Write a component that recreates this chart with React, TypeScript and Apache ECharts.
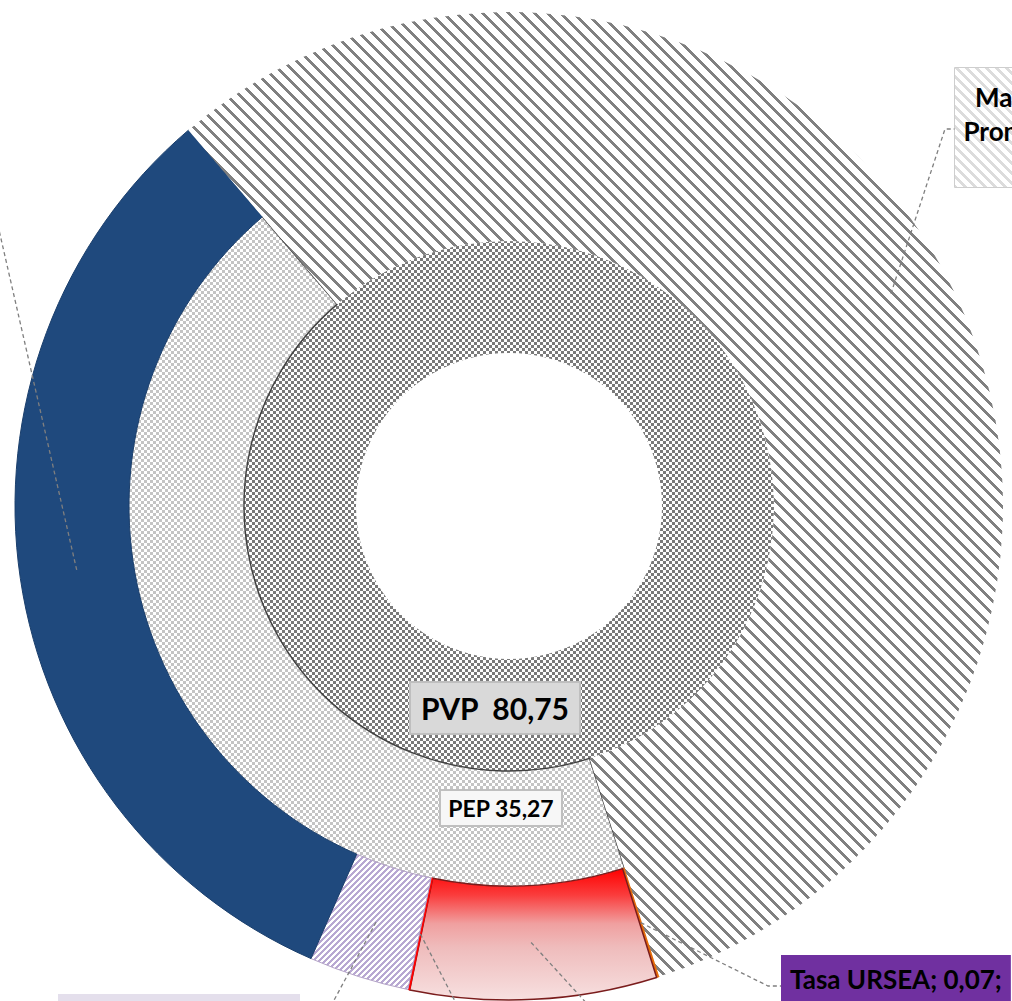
import React, { useEffect, useRef } from 'react';
import * as echarts from 'echarts';

// ---------------- data ----------------
const innerNames = ['PVP'];
const innerValues = [80.75];

const middleNames = ['PEP', 'Margen Promedio'];
const middleValues = [35.27, 45.48];

const outerNames = ['Tasa URSEA', 'Costo logístico', 'Pérdidas', 'Flete y seguro', 'Precio FOB', 'Margen Promedio'];
const outerValues = [0.07, 6.5, 0.05, 2.65, 26.0, 45.48];

const fmt = (v: number) => v.toFixed(2).replace('.', ',');
const FONT = 'Lato, "Open Sans", sans-serif';

function makeTile(w: number, h: number, bg: string, fg: string, on: (x: number, y: number) => boolean) {
  const c = document.createElement('canvas');
  c.width = w;
  c.height = h;
  const ctx = c.getContext('2d')!;
  ctx.fillStyle = bg;
  ctx.fillRect(0, 0, w, h);
  ctx.fillStyle = fg;
  for (let y = 0; y < h; y++) for (let x = 0; x < w; x++) if (on(x, y)) ctx.fillRect(x, y, 1, 1);
  return c;
}
const pattern = (c: HTMLCanvasElement) => ({ image: c.toDataURL(), repeat: 'repeat', imageWidth: c.width, imageHeight: c.height });

export default function App() {
  const ref = useRef<HTMLDivElement>(null);
  useEffect(() => {
    if (!ref.current) return;
    const chart = echarts.init(ref.current, null, { renderer: 'svg' });

    const P = 13;
    const hatch = pattern(makeTile(P, P, '#ffffff', '#808080', (x, y) => (((x - y) % P) + P) % P < 4));
    const lav = pattern(makeTile(6, 6, '#ffffff', '#b8a8d2', (x, y) => (x + y) % 6 < 3));
    const chkDark = pattern(makeTile(6, 6, '#ffffff', '#7a7a7a', (x, y) => (Math.floor(x / 3) + Math.floor(y / 3)) % 2 === 0));
    const chkLight = pattern(makeTile(6, 6, '#ffffff', '#c4c4c4', (x, y) => (Math.floor(x / 3) + Math.floor(y / 3)) % 2 === 0));
    const boxBg = makeTile(129, 119, '#ffffff', '#dcdcdc', (x, y) => (((x - y) % 10) + 10) % 10 < 4).toDataURL();

    const redGrad = {
      type: 'linear', x: 0, y: 0, x2: 0, y2: 1, global: false,
      colorStops: [
        { offset: 0, color: '#ff0000' },
        { offset: 0.2, color: '#fa3c3c' },
        { offset: 0.42, color: '#f0a0a0' },
        { offset: 0.6, color: '#efbcbc' },
        { offset: 1, color: '#f7e0e0' },
      ],
    };

    const outerStyles: any[] = [
      { color: '#e46c0a', borderColor: '#e46c0a', borderWidth: 1 },
      { color: redGrad, borderColor: '#7a1c1c', borderWidth: 1.5 },
      { color: '#ff0000', borderColor: '#ff0000', borderWidth: 1 },
      { color: lav, borderColor: '#b3a2c7', borderWidth: 1 },
      { color: '#1f497d', borderColor: '#1b3f6c', borderWidth: 1 },
      { color: hatch, borderWidth: 0 },
    ];

    // labels of slices whose text lies outside the visible frame carry no text
    const outerLabelStyles: any[] = [
      { backgroundColor: '#7030a0', padding: [11, 9, 20, 9], fontSize: 26, align: 'left' },
      { backgroundColor: '#f2dcdb', padding: [10, 10], fontSize: 18 },
      { backgroundColor: '#ffffff', padding: [10, 10], fontSize: 18 },
      { backgroundColor: '#e4dfec', padding: [12, 10, 24, 10], fontSize: 18, width: 222, align: 'right' },
      { backgroundColor: '#dbe5f1', padding: [10, 10], fontSize: 18 },
      {
        backgroundColor: { image: boxBg }, borderColor: '#bfbfbf', borderWidth: 1.5,
        padding: [12, 8, 39, 8], fontSize: 26, lineHeight: 34, width: 113, align: 'center',
      },
    ];

    const outerLabelPos: any[] = [
      { x: 781, y: 955, align: 'left', verticalAlign: 'top', elbow: [768, 986], end: [781, 986] },
      { x: 625, y: 1012, align: 'left', verticalAlign: 'top', elbow: [611, 1030], end: [625, 1030] },
      { x: 488, y: 1025, align: 'left', verticalAlign: 'top', elbow: [475, 1040], end: [488, 1040] },
      { x: 300, y: 994, align: 'right', verticalAlign: 'top', elbow: [318, 1030], end: [300, 1030] },
      { x: -20, y: 195, align: 'right', verticalAlign: 'middle', elbow: [-9, 195], end: [-20, 195] },
      { x: 1019.5, y: 68, align: 'center', verticalAlign: 'top', elbow: [945, 129], end: [955, 129] },
    ];

    const outerLabelText = (i: number) => {
      const n = outerNames[i];
      const v = outerValues[i];
      if (i === 0) return `${n}; ${fmt(v)};`;
      if (i === 5) return n.split(' ').join('\n');
      return '\u00a0';
    };

    const CENTER = [509, 506];
    const START = 90 - 162.3;

    const option: any = {
      animation: false,
      backgroundColor: '#ffffff',
      series: [
        {
          type: 'pie',
          center: CENTER,
          radius: [153, 265],
          startAngle: 90,
          clockwise: true,
          silent: true,
          avoidLabelOverlap: false,
          data: innerNames.map((n, i) => ({ name: n, value: innerValues[i], itemStyle: { color: chkDark, borderWidth: 0 } })),
          label: {
            show: true,
            position: 'inside',
            formatter: (p: any) => `${p.name}\u00a0 ${fmt(p.value)}`,
            fontFamily: FONT,
            fontSize: 30,
            fontWeight: 'bold',
            color: '#000000',
            backgroundColor: '#d9d9d9',
            borderColor: '#bfbfbf',
            borderWidth: 2,
            padding: [7, 10],
            lineHeight: 36,
            overflow: 'none',
          },
          labelLine: { show: false },
          labelLayout: () => ({ x: 495, y: 708, align: 'center', verticalAlign: 'middle' }),
        },
        {
          type: 'pie',
          center: CENTER,
          radius: [265, 382],
          startAngle: START,
          clockwise: true,
          silent: true,
          avoidLabelOverlap: false,
          data: middleNames.map((n, i) => ({
            name: n,
            value: middleValues[i],
            itemStyle: i === 0 ? { color: chkLight, borderColor: '#404040', borderWidth: 1.4 } : { color: hatch, borderWidth: 0 },
            label: { show: i === 0 },
          })),
          label: {
            position: 'inside',
            formatter: (p: any) => `${p.name} ${fmt(p.value)}`,
            fontFamily: FONT,
            fontSize: 23,
            fontWeight: 'bold',
            color: '#000000',
            backgroundColor: '#f7f7f7',
            borderColor: '#bfbfbf',
            borderWidth: 2,
            padding: [5, 7],
            lineHeight: 24,
            overflow: 'none',
          },
          labelLine: { show: false },
          labelLayout: () => ({ x: 501, y: 808, align: 'center', verticalAlign: 'middle' }),
        },
        {
          type: 'pie',
          center: CENTER,
          radius: [380, 494],
          startAngle: START,
          clockwise: true,
          silent: true,
          avoidLabelOverlap: false,
          data: outerNames.map((n, i) => ({ name: n, value: outerValues[i], itemStyle: outerStyles[i] })),
          label: { show: false },
          labelLine: { show: false },
        },
        {
          type: 'pie',
          center: CENTER,
          radius: [380, 437],
          startAngle: START,
          clockwise: true,
          silent: true,
          avoidLabelOverlap: false,
          z: 5,
          data: outerNames.map((n, i) => ({
            name: n,
            value: outerValues[i],
            itemStyle: { color: 'rgba(0,0,0,0)', borderWidth: 0 },
            label: outerLabelStyles[i],
          })),
          label: {
            show: true,
            position: 'outside',
            formatter: (p: any) => outerLabelText(p.dataIndex),
            fontFamily: FONT,
            fontWeight: 'bold',
            color: '#000000',
            overflow: 'none',
          },
          labelLine: {
            show: true,
            length: 10,
            length2: 10,
            lineStyle: { color: '#7f7f7f', width: 1.3, type: [4, 3] },
          },
          labelLayout: (p: any) => {
            const L = outerLabelPos[p.dataIndex];
            const pts = p.labelLinePoints;
            const res: any = { x: L.x, y: L.y, align: L.align, verticalAlign: L.verticalAlign };
            if (pts && pts.length) res.labelLinePoints = [pts[0], L.elbow, L.end];
            return res;
          },
        },
      ],
    };

    chart.setOption(option);
    return () => chart.dispose();
  }, []);

  return (
    <div
      ref={ref}
      style={{ position: 'fixed', left: 0, top: 0, width: 1012, height: 1001, background: '#ffffff' }}
    />
  );
}
